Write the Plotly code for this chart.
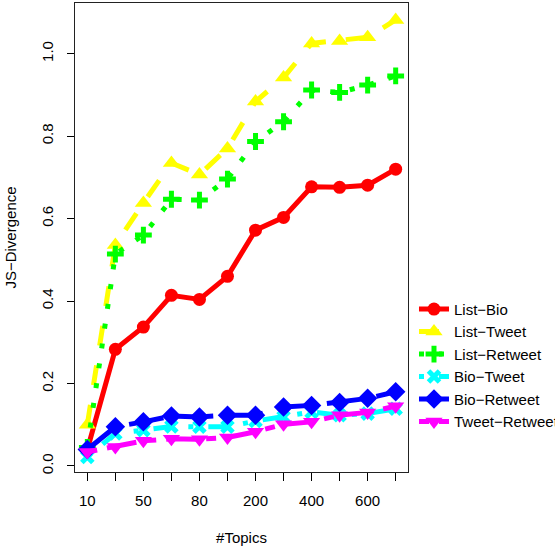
import plotly.graph_objects as go

topics = ["10", "20", "50", "60", "80", "100", "200", "300", "400", "500", "600", "700"]
shown_labels = ["10", "", "50", "", "80", "", "200", "", "400", "", "600", ""]

list_bio = [0.040, 0.283, 0.337, 0.414, 0.404, 0.460, 0.572, 0.603, 0.677, 0.676, 0.681, 0.720]
list_tweet = [0.100, 0.536, 0.638, 0.735, 0.707, 0.770, 0.884, 0.942, 1.025, 1.031, 1.040, 1.082]
list_retweet = [0.045, 0.514, 0.560, 0.647, 0.645, 0.696, 0.787, 0.835, 0.912, 0.906, 0.924, 0.946]
bio_tweet = [0.022, 0.079, 0.087, 0.096, 0.095, 0.095, 0.109, 0.119, 0.131, 0.123, 0.127, 0.139]
bio_retweet = [0.040, 0.095, 0.107, 0.121, 0.119, 0.123, 0.123, 0.143, 0.147, 0.154, 0.164, 0.180]
tweet_retweet = [0.034, 0.046, 0.061, 0.066, 0.065, 0.069, 0.083, 0.101, 0.107, 0.123, 0.130, 0.145]

series = [
    ("List\u2212Bio", list_bio, "#FF0000", "solid", "circle", 13),
    ("List\u2212Tweet", list_tweet, "#FFFF00", "20px,20px", "triangle-up", 15),
    ("List\u2212Retweet", list_retweet, "#00FF00", "5px,15px", "cross-thin", 12),
    ("Bio\u2212Tweet", bio_tweet, "#00FFFF", "5px,15px,20px,15px", "x-thin", 11),
    ("Bio\u2212Retweet", bio_retweet, "#0000FF", "35px,15px", "diamond", 15),
    ("Tweet\u2212Retweet", tweet_retweet, "#FF00FF", "10px,10px,30px,10px", "triangle-down", 15),
]

fig = go.Figure()
for name, vals, color, dash, sym, size in series:
    thin = sym.endswith("-thin")
    fig.add_trace(go.Scatter(
        x=topics, y=vals, name=name, mode="lines+markers",
        line=dict(color=color, width=5, dash=dash),
        marker=dict(symbol=sym, size=size, color=color,
                    line=dict(color=color, width=5 if thin else 0)),
    ))

fig.update_layout(
    width=555, height=546, autosize=False,
    margin=dict(l=75, r=147, t=3, b=74, autoexpand=False),
    paper_bgcolor="white", plot_bgcolor="white",
    font=dict(family="Liberation Sans, Arial, sans-serif", size=15, color="black"),
    showlegend=True,
    legend=dict(x=0.018, xanchor="left", y=0.382, yanchor="top",
                xref="paper", bgcolor="rgba(0,0,0,0)", borderwidth=0,
                font=dict(size=15), tracegroupgap=0, itemwidth=30),
    xaxis=dict(
        type="category", categoryorder="array", categoryarray=topics,
        range=[-0.44, 11.44], automargin=False,
        tickmode="array", tickvals=topics, ticktext=shown_labels,
        ticks="outside", ticklen=8, tickcolor="black", tickwidth=1,
        showline=True, linecolor="#222", linewidth=1, mirror=True,
        showgrid=False, zeroline=False,
        ticklabelstandoff=7,
        title=dict(text="#Topics", standoff=28, font=dict(size=15)),
    ),
    yaxis=dict(
        range=[-0.0146, 1.123], automargin=False,
        tickvals=[0.0, 0.2, 0.4, 0.6, 0.8, 1.0],
        ticktext=["0.0", "0.2", "0.4", "0.6", "0.8", "1.0"],
        tickangle=-90,
        ticks="outside", ticklen=7, tickcolor="black", tickwidth=1,
        showline=True, linecolor="#222", linewidth=1, mirror=True,
        showgrid=False, zeroline=False,
        ticklabelstandoff=8,
        title=dict(text="JS\u2212Divergence", standoff=18, font=dict(size=15)),
    ),
)
fig.update_layout(legend_x=1.018)

fig.write_html(
    "out.html",
    config={"responsive": False, "displayModeBar": False},
    post_script="document.body.style.margin='0';document.body.style.overflow='hidden';",
)
